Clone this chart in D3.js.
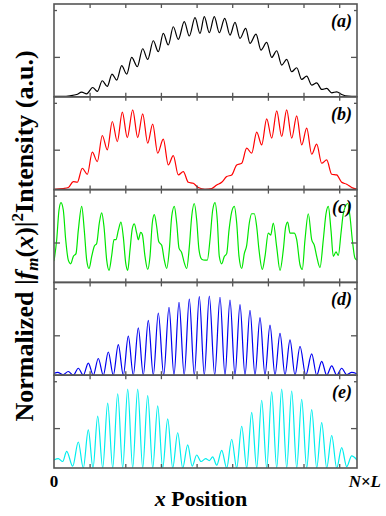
<!DOCTYPE html>
<html><head><meta charset="utf-8">
<script src="https://cdnjs.cloudflare.com/ajax/libs/d3/7.8.5/d3.min.js"></script>
<style>body{margin:0;background:#fff}svg{display:block}</style>
</head><body>
<script>
// ---------- data ----------
const xTicks = [35.6, 71.3, 106.9, 142.6, 178.2, 213.9, 249.5, 285.2];
const yTickMajor = [0.43];
const yTickMinor = [0.935];
const panelLabels = ["a", "b", "c", "d", "e"];
const xEndLabels = ["0", "N×L"];

const seriesA = [[0,0.004],[9.3,0.004],[16,0.011],[22.7,0.025],[27.7,0.05],[32.7,0.032],[38.7,0.10],[43.3,0.058],[48.3,0.173],[53.3,0.112],[58,0.245],[62.7,0.18],[67.7,0.335],[72.7,0.245],[77.7,0.424],[83.3,0.324],[88.7,0.518],[93.7,0.403],[99.3,0.604],[104.3,0.486],[109.3,0.683],[114.3,0.558],[119.3,0.755],[124.3,0.619],[130.3,0.81],[135.3,0.655],[141,0.853],[146,0.683],[150.3,0.863],[155.3,0.69],[160.3,0.863],[165.3,0.69],[170.7,0.845],[176,0.665],[181,0.802],[186,0.63],[191.7,0.737],[196,0.576],[202,0.676],[207,0.504],[212.7,0.586],[217.7,0.424],[222.7,0.496],[227.7,0.342],[232.7,0.403],[237.7,0.27],[242.7,0.313],[247.7,0.187],[252.7,0.223],[257.7,0.126],[262.7,0.151],[267.7,0.079],[272.7,0.09],[277.7,0.043],[282.7,0.054],[287.7,0.025],[294.3,0.007],[303,0.004]];

const seriesB = [[0,0.004],[9.3,0.011],[14.3,0.022],[19.3,0.086],[23.3,0.079],[28.3,0.23],[33.3,0.165],[38.3,0.403],[43.3,0.302],[48.3,0.583],[53.3,0.428],[58.3,0.734],[63.3,0.518],[68.3,0.835],[73.3,0.561],[78.7,0.86],[83.7,0.561],[88.7,0.817],[93.7,0.5],[98.7,0.705],[103.7,0.392],[109.3,0.543],[114.3,0.266],[119.3,0.367],[124.3,0.158],[129.3,0.194],[134.3,0.079],[139.3,0.068],[144.3,0.022],[151,0.004],[157.7,0.011],[162.7,0.05],[167.7,0.079],[172.7,0.14],[177.7,0.158],[182.7,0.266],[187.7,0.284],[192.7,0.446],[197.7,0.392],[202.7,0.619],[207.7,0.482],[212.7,0.763],[217.7,0.554],[222.7,0.849],[227.7,0.572],[232.7,0.86],[237.7,0.554],[242.7,0.795],[247.7,0.482],[252.7,0.662],[257.7,0.381],[262.7,0.489],[267.7,0.284],[272.7,0.32],[277.7,0.165],[282.7,0.158],[287.7,0.079],[292.7,0.058],[297.7,0.022],[303,0.004]];

const seriesC = [[0,0.23],[2.7,0.46],[5,0.78],[7,0.86],[9.3,0.78],[11.7,0.46],[14.3,0.24],[16.7,0.20],[19.3,0.28],[22,0.31],[24.3,0.56],[27.7,0.82],[30.3,0.56],[32.7,0.24],[35,0.15],[37.7,0.28],[40.3,0.39],[42.7,0.42],[45.3,0.64],[47.7,0.75],[50,0.60],[52.7,0.24],[55,0.13],[57.7,0.29],[60,0.46],[62,0.46],[64.3,0.56],[67,0.65],[69.3,0.49],[71.7,0.21],[73.7,0.13],[76,0.35],[78.3,0.58],[80.3,0.63],[82.7,0.53],[84.3,0.46],[86.7,0.54],[88.3,0.52],[91,0.28],[93.7,0.14],[96,0.28],[98.3,0.64],[100.3,0.73],[102.7,0.60],[104.7,0.44],[107.7,0.40],[110.3,0.24],[112.7,0.15],[115.3,0.35],[117.7,0.71],[120.3,0.82],[122.7,0.64],[125,0.37],[127.7,0.32],[130.3,0.21],[132.7,0.15],[135.3,0.38],[137.7,0.71],[140.3,0.85],[142.7,0.67],[145,0.35],[147.7,0.25],[151,0.24],[153.3,0.24],[156,0.46],[158.7,0.78],[161,0.86],[163.3,0.67],[165.3,0.28],[167.7,0.20],[170.3,0.28],[172.7,0.31],[175,0.56],[177.7,0.76],[180.3,0.82],[182.7,0.64],[185,0.28],[187.7,0.15],[190.3,0.31],[192.7,0.40],[195.3,0.64],[197.7,0.74],[200.3,0.74],[202.7,0.60],[205,0.35],[208.3,0.14],[211,0.28],[214.3,0.53],[216.7,0.51],[219.3,0.64],[222.7,0.38],[226,0.13],[229.3,0.35],[231.7,0.60],[233.7,0.65],[236,0.53],[240.3,0.53],[242.7,0.46],[246,0.19],[248.3,0.14],[251,0.46],[254.3,0.74],[257.7,0.46],[260.3,0.40],[262.7,0.28],[266,0.16],[269.3,0.46],[272,0.74],[274.3,0.82],[277,0.56],[279.3,0.28],[282,0.33],[284.3,0.29],[287,0.53],[289.3,0.74],[293.7,0.85],[296,0.71],[298.3,0.46],[301,0.26],[303,0.24]];

const seriesD = [[0,0.02],[3.7,0.03],[9,0.005],[14.3,0.04],[19.3,0.0],[24.3,0.075],[29.3,0.0],[34.3,0.13],[39.3,0.0],[44.3,0.18],[49.3,0.0],[54.3,0.25],[59.3,0.0],[64.3,0.33],[69.3,0.0],[74.3,0.42],[79.3,0.0],[84.3,0.51],[89.3,0.0],[94.3,0.59],[99.3,0.0],[104.3,0.67],[109.7,0.0],[115,0.73],[120,0.0],[125,0.785],[130.2,0.0],[135.3,0.82],[140.3,0.0],[145.3,0.846],[150.3,0.0],[155.3,0.853],[160.7,0.0],[166,0.84],[171,0.0],[176,0.81],[181,0.0],[186,0.76],[191,0.0],[196,0.70],[201,0.0],[206,0.62],[211,0.0],[216,0.54],[221,0.0],[226,0.45],[231,0.0],[236,0.38],[241,0.0],[246,0.31],[251.8,0.0],[257.7,0.23],[262.7,0.0],[267.7,0.15],[272.7,0.0],[277.7,0.10],[282.7,0.0],[287.7,0.075],[292.7,0.005],[297.7,0.03],[303,0.015]];

const seriesE = [[0,0.086],[4.3,0.10],[8.7,0.07],[12.7,0.18],[18.7,0.02],[24.3,0.28],[29.3,0.0],[34.3,0.41],[39,0.0],[43.7,0.56],[48.7,0.0],[53.7,0.70],[58.7,0.0],[63.7,0.80],[68.7,0.0],[73.7,0.85],[78.7,0.0],[83.7,0.85],[88.7,0.0],[93.7,0.78],[98.7,0.0],[103.7,0.67],[108.7,0.0],[113.7,0.53],[118.7,0.0],[123.7,0.38],[128.7,0.0],[133.7,0.25],[138.2,0.02],[142.7,0.14],[147,0.07],[151.7,0.10],[155.3,0.08],[158.7,0.12],[162.7,0.03],[167.7,0.19],[172.7,0.0],[177.7,0.31],[182.7,0.0],[187.7,0.45],[192.7,0.0],[197.7,0.60],[202.7,0.0],[207.7,0.73],[212.7,0.0],[217.7,0.82],[222.7,0.0],[227.7,0.85],[232.7,0.0],[237.7,0.83],[242.7,0.0],[247.7,0.74],[252.7,0.0],[257.7,0.63],[262.7,0.0],[267.7,0.49],[272.7,0.0],[277.7,0.35],[282.7,0.0],[287.7,0.22],[292.7,0.015],[297.7,0.13],[303,0.086]];

const allSeries = [seriesA, seriesB, seriesC, seriesD, seriesE];
const colors = ["#000000", "#ff0000", "#00e600", "#0000f0", "#00eeee"];

(function () {
// ---------- layout ----------
const W = 386, H = 516;
const mLeft = 54, mRight = 357, mTop = 4, mBottom = 468;
const nP = 5, pH = (mBottom - mTop) / nP;
const frameColor = "#555";
const serif = "'Liberation Serif', 'Times New Roman', serif";

const svg = d3.select("body").append("svg").attr("width", W).attr("height", H);
const x = d3.scaleLinear().domain([0, 303]).range([mLeft, mRight]);

const line = d3.line().curve(d3.curveMonotoneX);

allSeries.forEach((data, i) => {
  const y0 = mTop + i * pH, y1 = y0 + pH;
  const y = d3.scaleLinear().domain([0, 1]).range([y1, y0]);
  const g = svg.append("g");
  g.append("clipPath").attr("id", "clip" + i)
    .append("rect").attr("x", mLeft).attr("y", y0).attr("width", mRight - mLeft).attr("height", pH);
  g.append("path")
    .attr("clip-path", `url(#clip${i})`)
    .attr("d", line.x(d => x(d[0])).y(d => y(d[1]))(data))
    .attr("fill", "none").attr("stroke", colors[i]).attr("stroke-width", 1.2);

  const axB = d3.axisTop(x).tickValues(xTicks).tickSize(4).tickFormat("");
  const axT = d3.axisBottom(x).tickValues(xTicks).tickSize(4).tickFormat("");
  const axL = d3.axisRight(y).tickValues(yTickMajor).tickSize(6).tickFormat("");
  const axLm = d3.axisRight(y).tickValues(yTickMinor).tickSize(3).tickFormat("");
  const axR = d3.axisLeft(y).tickValues(yTickMajor).tickSize(6).tickFormat("");
  const axRm = d3.axisLeft(y).tickValues(yTickMinor).tickSize(3).tickFormat("");
  [[axB, `translate(0,${y1})`], [axT, `translate(0,${y0})`], [axL, `translate(${mLeft},0)`],
   [axLm, `translate(${mLeft},0)`], [axR, `translate(${mRight},0)`], [axRm, `translate(${mRight},0)`]]
  .forEach(([ax, tr]) => {
    const a = g.append("g").attr("transform", tr).call(ax);
    a.select(".domain").remove();
    a.selectAll("line").attr("stroke", frameColor).attr("stroke-width", 1.3);
  });
  g.append("rect").attr("x", mLeft).attr("y", y0).attr("width", mRight - mLeft).attr("height", pH)
    .attr("fill", "none").attr("stroke", frameColor).attr("stroke-width", 1.6);

  g.append("text").attr("x", 352).attr("y", y0 + 23).attr("text-anchor", "end")
    .attr("font-family", serif).attr("font-weight", "bold").attr("font-style", "italic")
    .attr("font-size", 18).text(`(${panelLabels[i]})`);
});

svg.append("text").attr("x", x(0)).attr("y", 487).attr("text-anchor", "middle")
  .attr("font-family", serif).attr("font-weight", "bold").attr("font-size", 17).text(xEndLabels[0]);
const nl = svg.append("text").attr("x", 381).attr("y", 487).attr("text-anchor", "end")
  .attr("font-family", serif).attr("font-weight", "bold").attr("font-size", 17);
nl.append("tspan").attr("font-style", "italic").text("N");
nl.append("tspan").text("×");
nl.append("tspan").attr("font-style", "italic").text("L");

const xt = svg.append("text").attr("x", 201).attr("y", 506).attr("text-anchor", "middle")
  .attr("font-family", serif).attr("font-weight", "bold").attr("font-size", 22);
xt.append("tspan").attr("font-style", "italic").text("x");
xt.append("tspan").text(" Position");

const yt = svg.append("text").attr("transform", `translate(33,${(mTop + mBottom) / 2}) rotate(-90)`)
  .attr("text-anchor", "middle").attr("font-family", serif).attr("font-weight", "bold").attr("font-size", 26);
yt.append("tspan").text("Normalized |");
yt.append("tspan").attr("font-style", "italic").text("f");
yt.append("tspan").attr("font-style", "italic").attr("font-size", 17).attr("dy", 5).text("m");
yt.append("tspan").attr("dy", -5).text("(");
yt.append("tspan").attr("font-style", "italic").text("x");
yt.append("tspan").text(")|");
yt.append("tspan").attr("font-size", 17).attr("dy", -10).text("2");
yt.append("tspan").attr("dy", 10).text("Intensity (a.u.)");
})();
</script>
</body></html>
